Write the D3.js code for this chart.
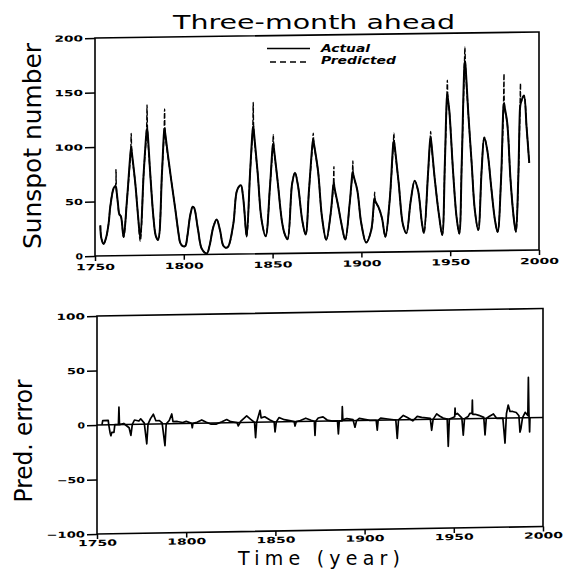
<!DOCTYPE html>
<html>
<head>
<meta charset="utf-8">
<script src="https://d3js.org/d3.v7.min.js"></script>
<style>
  body { margin: 0; background: #fff; }
  svg { display: block; }
</style>
</head>
<body>
<div id="chart"></div>
<script>
(function () {
  'use strict';

  // sunspot series (time in years, values in sunspot number)
  var years = [
    1753.0, 1753.6, 1754.9, 1756.3, 1757.7, 1758.6, 1760.5, 1761.5, 1761.8, 1762.1,
    1762.9, 1763.7, 1764.6, 1766.1, 1768.0, 1770.1, 1770.4, 1770.7, 1772.7, 1774.3,
    1775.5, 1777.4, 1779.0, 1779.3, 1779.6, 1781.1, 1783.0, 1784.2, 1785.5, 1787.7,
    1788.9, 1789.2, 1789.5, 1792.4, 1795.2, 1797.0, 1798.0, 1799.4, 1800.8, 1802.0,
    1803.6, 1805.0, 1805.8, 1808.0, 1810.2, 1813.0, 1814.5, 1816.6, 1818.5, 1820.4,
    1822.2, 1823.6, 1825.0, 1827.9, 1830.1, 1832.2, 1833.2, 1834.1, 1835.4, 1837.3,
    1838.8, 1839.1, 1839.4, 1841.6, 1843.8, 1846.1, 1848.5, 1850.1, 1850.4, 1850.7,
    1852.8, 1855.4, 1857.0, 1858.4, 1861.0, 1862.6, 1864.4, 1866.7, 1868.6, 1870.5,
    1872.6, 1872.9, 1873.2, 1875.6, 1877.8, 1880.2, 1882.7, 1884.2, 1884.5, 1884.8,
    1886.8, 1888.7, 1890.9, 1893.4, 1894.9, 1895.2, 1895.5, 1897.7, 1899.9, 1902.7,
    1905.5, 1907.2, 1907.5, 1907.8, 1909.7, 1911.6, 1913.5, 1915.9, 1918.0, 1918.3,
    1918.6, 1921.0, 1923.4, 1925.3, 1927.8, 1930.0, 1931.9, 1934.1, 1935.2, 1937.5,
    1938.7, 1939.0, 1939.3, 1941.4, 1943.8, 1945.5, 1947.0, 1948.1, 1948.4, 1948.7,
    1949.5, 1951.7, 1953.6, 1955.1, 1956.5, 1958.0, 1958.3, 1958.6, 1960.2, 1962.1,
    1963.9, 1965.8, 1967.7, 1969.2, 1970.9, 1973.3, 1975.2, 1976.7, 1978.6, 1980.0,
    1980.3, 1980.6, 1982.1, 1984.0, 1985.9, 1987.0, 1988.3, 1989.3, 1989.6, 1989.9,
    1991.5, 1993.0, 1994.5
  ];
  var actual = [
    28, 16, 11, 17, 30, 45, 62, 64, 63, 60,
    48, 38, 36, 17, 51, 96, 99, 95, 66, 35,
    16, 75, 113, 116, 113, 75, 33, 18, 14, 75,
    113, 116, 112, 75, 42, 20, 11, 8, 8, 17,
    36, 44, 43, 23, 5, 1, 8, 25, 32, 22,
    8, 6, 7, 28, 59, 63, 55, 40, 16, 74,
    114, 117, 113, 74, 31, 16, 61, 99, 101, 97,
    67, 28, 17, 13, 64, 74, 61, 30, 17, 58,
    102, 104, 101, 75, 33, 12, 36, 62, 64, 60,
    44, 27, 12, 45, 72, 74, 71, 57, 27, 9,
    20, 48, 49, 47, 41, 31, 14, 47, 100, 102,
    99, 63, 25, 17, 47, 65, 56, 26, 17, 71,
    102, 104, 101, 65, 32, 15, 81, 140, 144, 140,
    129, 71, 31, 16, 81, 170, 174, 170, 126, 80,
    37, 19, 74, 104, 92, 55, 28, 17, 64, 132,
    135, 132, 117, 64, 28, 17, 64, 130, 134, 136,
    142, 113, 80
  ];
  var predicted = [
    28, 16, 11, 17, 30, 45, 62, 64, 79, 60,
    48, 38, 36, 17, 51, 96, 112, 95, 66, 35,
    13, 75, 113, 138, 113, 75, 33, 18, 14, 75,
    113, 134, 112, 75, 42, 20, 11, 8, 8, 17,
    36, 44, 43, 23, 5, 1, 8, 25, 32, 22,
    8, 6, 7, 28, 59, 63, 55, 40, 16, 74,
    114, 139, 113, 74, 31, 16, 61, 99, 109, 97,
    67, 28, 17, 13, 64, 74, 61, 30, 17, 58,
    102, 110, 101, 75, 33, 12, 36, 62, 79, 60,
    44, 27, 12, 45, 72, 84, 71, 57, 27, 9,
    20, 48, 55, 47, 41, 31, 14, 47, 100, 109,
    99, 63, 25, 17, 47, 65, 56, 26, 17, 71,
    102, 110, 101, 65, 32, 15, 81, 140, 157, 140,
    129, 71, 31, 16, 81, 170, 187, 170, 126, 80,
    37, 19, 74, 104, 92, 55, 28, 17, 64, 132,
    162, 132, 117, 64, 28, 17, 64, 130, 153, 136,
    142, 113, 80
  ];

  // prediction error series
  var errYears = [
    1752.8, 1753.2, 1756.3, 1756.6, 1757.3, 1757.8, 1758.3, 1759.5, 1760.0, 1762.0,
    1762.3, 1762.6, 1765.0, 1768.0, 1769.0, 1769.8, 1771.0, 1773.5, 1774.5, 1776.5,
    1777.9, 1778.6, 1780.0, 1781.6, 1783.0, 1785.0, 1786.5, 1788.1, 1788.8, 1790.5,
    1791.9, 1792.6, 1795.0, 1798.0, 1800.0, 1803.0, 1803.4, 1803.8, 1806.0, 1808.7,
    1811.0, 1814.0, 1817.0, 1820.0, 1822.7, 1825.0, 1828.5, 1829.2, 1830.5, 1833.9,
    1836.0, 1838.3, 1838.9, 1839.5, 1841.4, 1842.0, 1844.0, 1847.0, 1849.3, 1849.8,
    1850.5, 1852.0, 1855.0, 1858.0, 1860.5, 1861.0, 1861.7, 1864.0, 1867.0, 1870.0,
    1871.8, 1872.2, 1872.6, 1874.0, 1876.7, 1879.0, 1882.0, 1884.8, 1885.3, 1885.8,
    1887.3, 1887.5, 1887.8, 1890.0, 1893.5, 1894.6, 1895.5, 1897.0, 1900.0, 1903.0,
    1906.5, 1907.1, 1907.6, 1909.0, 1913.0, 1917.5, 1918.3, 1919.0, 1921.7, 1924.0,
    1927.0, 1929.5, 1932.0, 1936.8, 1937.6, 1938.4, 1940.4, 1942.0, 1944.0, 1946.3,
    1946.9, 1947.5, 1949.0, 1950.5, 1950.7, 1950.9, 1952.0, 1954.5, 1955.3, 1956.0,
    1958.0, 1959.0, 1960.2, 1960.4, 1960.6, 1962.0, 1964.0, 1966.8, 1967.5, 1968.2,
    1970.0, 1972.2, 1974.0, 1977.5, 1978.7, 1979.5, 1980.5, 1981.5, 1983.0, 1985.0,
    1986.5, 1987.1, 1987.6, 1988.5, 1990.0, 1991.5, 1991.8, 1992.1, 1992.5, 1992.7
  ];
  var errors = [
    0, 4, 4, 0, -7, -10, -7, -7, 0, 0,
    16, 0, 1, -3, -10, 0, 4, 3, 5, 1,
    -18, 0, 5, 9, 3, 3, 1, -20, 0, 3,
    9, 2, 2, 1, 2, 0, -4, 0, 1, 3,
    1, -1, -1, 1, 3, 1, 0, -3, 1, 6,
    3, 0, -14, 0, 11, 4, 5, 2, 0, -9,
    0, 4, 2, 1, 0, -4, 0, 1, 3, 1,
    0, -13, 0, 3, 4, 1, 0, 0, -12, 0,
    0, 13, 1, 2, 1, -6, 0, 2, 1, 0,
    0, -9, 0, 2, 1, 0, -17, 0, 4, 2,
    -1, 3, 2, 1, -10, 0, 5, 3, 1, 0,
    -25, 0, 1, 2, 10, 4, 5, 1, -15, 0,
    2, 5, 5, 17, 4, 4, 3, 1, -15, 0,
    2, 4, 0, 0, -23, 4, 12, 6, 6, 5,
    2, -13, -10, 0, 5, 2, 37, 5, -13, 0
  ];

  var xTicks = [1750, 1800, 1850, 1900, 1950, 2000];
  var sunTicks = [0, 50, 100, 150, 200];
  var errTicks = [-100, -50, 0, 50, 100];

  var font = "'DejaVu Sans', 'Liberation Sans', sans-serif";

  var svg = d3.select('#chart').append('svg')
    .attr('width', 564)
    .attr('height', 569);

  svg.append('rect')
    .attr('width', 564)
    .attr('height', 569)
    .attr('fill', '#fff');

  function fmt(d) { return d < 0 ? '\u2212' + (-d) : String(d); }

  // the printed digits are very wide, stretch them to the measured widths
  function labelWidth(d) {
    return String(Math.abs(d)).length * 10.5 - 3 + (d < 0 ? 10 : 0);
  }

  // the scan is slightly tilted: right side sits a few pixels higher
  function tilt(x0, y0, rise, run) {
    var deg = -Math.atan(rise / run) * 180 / Math.PI;
    return 'translate(' + x0 + ',' + y0 + ') skewY(' + deg + ') translate(' + (-x0) + ',' + (-y0) + ')';
  }

  function styleTicks(g) {
    g.select('.domain').remove();
    g.selectAll('line').attr('stroke', '#000').attr('stroke-width', 1.5);
    g.selectAll('text')
      .attr('fill', '#000')
      .attr('font-family', font)
      .attr('font-weight', 'bold')
      .attr('font-size', 8.5)
      .attr('textLength', function(d) { return labelWidth(d); })
      .attr('lengthAdjust', 'spacingAndGlyphs');
  }

  function panel(p) {
    var x = d3.scaleLinear().domain([1750, 2000]).range([p.left, p.right]);
    var y = d3.scaleLinear().domain(p.domain).range([p.bottom, p.top]);

    var g = svg.append('g')
      .attr('transform', tilt(p.left, y(0), p.rise, p.right - p.left));

    g.append('g')
      .attr('transform', 'translate(' + p.left + ',0)')
      .call(d3.axisLeft(y).tickValues(p.ticks).tickFormat(fmt)
        .tickSizeInner(10).tickSizeOuter(0).tickPadding(2))
      .call(styleTicks);

    g.append('g')
      .attr('transform', 'translate(0,' + p.bottom + ')')
      .call(d3.axisBottom(x).tickValues(xTicks).tickFormat(d3.format('d'))
        .tickSizeInner(5).tickSizeOuter(0).tickPadding(p.pad))
      .call(styleTicks);

    g.append('rect')
      .attr('x', p.left)
      .attr('y', p.top)
      .attr('width', p.right - p.left)
      .attr('height', p.bottom - p.top)
      .attr('fill', 'none')
      .attr('stroke', '#000')
      .attr('stroke-width', 1.6);

    return { g: g, x: x, y: y };
  }

  // top panel: sunspot number
  var top = panel({ left: 95, right: 539, top: 38, bottom: 256, domain: [0, 200], ticks: sunTicks, rise: 6, pad: 3 });

  var sunLine = d3.line()
    .curve(d3.curveCatmullRom.alpha(0.5))
    .x(function(i) { return top.x(years[i]); });

  top.g.append('path')
    .attr('d', sunLine.y(function(i) { return top.y(actual[i]); })(d3.range(years.length)))
    .attr('fill', 'none')
    .attr('stroke', '#000')
    .attr('stroke-width', 2)
    .attr('stroke-linejoin', 'round');

  top.g.append('path')
    .attr('d', sunLine.y(function(i) { return top.y(predicted[i]); })(d3.range(years.length)))
    .attr('fill', 'none')
    .attr('stroke', '#000')
    .attr('stroke-width', 1.4)
    .attr('stroke-dasharray', '5,2');

  // bottom panel: prediction error
  var bot = panel({ left: 97, right: 543, top: 316, bottom: 534, domain: [-100, 100], ticks: errTicks, rise: 7.5, pad: 1 });

  bot.g.append('line')
    .attr('x1', bot.x(1750))
    .attr('x2', bot.x(2000))
    .attr('y1', bot.y(0))
    .attr('y2', bot.y(0))
    .attr('stroke', '#000')
    .attr('stroke-width', 1.5);

  bot.g.append('path')
    .attr('d', d3.line()
      .x(function(i) { return bot.x(errYears[i]); })
      .y(function(i) { return bot.y(errors[i]); })(d3.range(errYears.length)))
    .attr('fill', 'none')
    .attr('stroke', '#000')
    .attr('stroke-width', 1.7)
    .attr('stroke-linejoin', 'round');

  // legend
  svg.append('line')
    .attr('x1', 267).attr('x2', 310).attr('y1', 48.5).attr('y2', 48.5)
    .attr('stroke', '#000').attr('stroke-width', 1.5);
  svg.append('line')
    .attr('x1', 270).attr('x2', 310).attr('y1', 62).attr('y2', 62)
    .attr('stroke', '#000').attr('stroke-width', 1.5)
    .attr('stroke-dasharray', '6,4');

  var legend = [['Actual', 51.5, 49], ['Predicted', 64, 75]];
  svg.selectAll('.legend')
    .data(legend)
    .enter().append('text')
    .attr('class', 'legend')
    .attr('x', 321)
    .attr('y', function(d) { return d[1]; })
    .attr('textLength', function(d) { return d[2]; })
    .attr('lengthAdjust', 'spacingAndGlyphs')
    .attr('font-family', font)
    .attr('font-weight', 'bold')
    .attr('font-style', 'italic')
    .attr('font-size', 10)
    .text(function(d) { return d[0]; });

  // titles
  svg.append('text')
    .attr('x', 173)
    .attr('y', 29)
    .attr('textLength', 282)
    .attr('lengthAdjust', 'spacingAndGlyphs')
    .attr('font-family', font)
    .attr('font-size', 19)
    .text('Three-month ahead');

  svg.append('text')
    .attr('transform', 'translate(41,146) rotate(-90)')
    .attr('text-anchor', 'middle')
    .attr('textLength', 206)
    .attr('lengthAdjust', 'spacingAndGlyphs')
    .attr('font-family', font)
    .attr('font-size', 24)
    .text('Sunspot number');

  svg.append('text')
    .attr('transform', 'translate(32,441) rotate(-90)')
    .attr('text-anchor', 'middle')
    .attr('textLength', 123)
    .attr('lengthAdjust', 'spacingAndGlyphs')
    .attr('font-family', font)
    .attr('font-size', 24)
    .text('Pred. error');

  svg.append('text')
    .attr('x', 319)
    .attr('y', 565)
    .attr('text-anchor', 'middle')
    .attr('textLength', 162)
    .attr('lengthAdjust', 'spacing')
    .attr('font-family', font)
    .attr('font-size', 19)
    .text('Time (year)');
}());
</script>
</body>
</html>
